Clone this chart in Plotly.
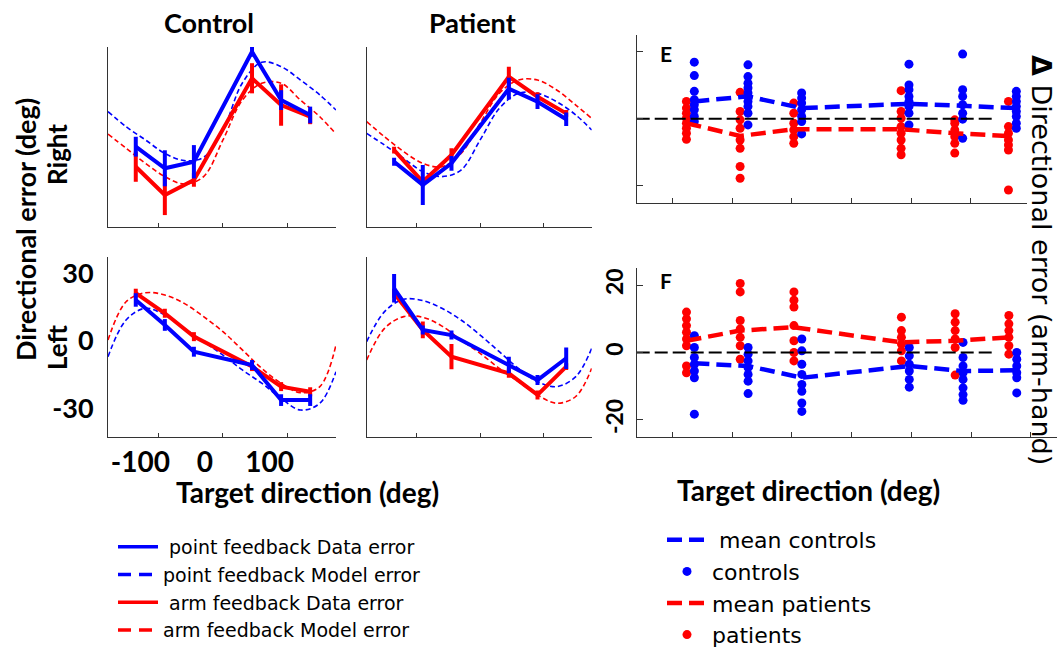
import plotly.graph_objects as go

W, H = 1058, 650
BLUE = '#0000ff'
RED = '#ff0000'

# ---------------- data: panels A-D (directional error, deg) ----------------
directions = [-135, -90, -45, 45, 90, 135]
model_x = [-178, -150, -120, -90, -60, -30, 0, 30, 60, 90, 120, 150, 175]

# Control - Right
ctrl_right_point = [-4.3, -13.9, -11.0, 37.9, 16.4, 9.8]
ctrl_right_point_err = [4.4, 8.0, 7.4, 2.2, 4.4, 3.7]
ctrl_right_arm = [-13.2, -25.8, -19.1, 26.1, 14.2, 9.0]
ctrl_right_arm_err = [6.7, 8.9, 3.0, 6.7, 9.2, 3.3]
ctrl_right_point_model = [11.3, 4.6, -1.3, -7.3, -10.5, -9.0, 3.0, 24.0, 33.2, 31.3, 25.3, 18.7, 12.0]
ctrl_right_arm_model = [1.3, -5.0, -11.7, -17.6, -20.9, -17.6, -1.3, 16.4, 23.9, 23.9, 16.4, 9.0, 1.3]

# Patient - Right
pat_right_point = [-11.0, -21.3, -11.7, 21.5, 15.7, 7.9]
pat_right_point_err = [1.8, 8.9, 3.3, 4.8, 3.3, 3.0]
pat_right_arm = [-5.8, -19.9, -8.0, 26.8, 17.9, 10.5]
pat_right_arm_err = [1.5, 2.0, 3.0, 4.4, 2.0, 1.5]
pat_right_point_model = [1.6, -3.6, -9.5, -15.4, -17.6, -14.7, -1.3, 12.7, 19.4, 19.4, 15.7, 9.8, 3.1]
pat_right_arm_model = [6.8, 0.1, -6.5, -11.7, -13.2, -7.3, 6.1, 19.4, 25.3, 25.3, 20.9, 14.2, 8.3]

# Control - Left
ctrl_left_point = [20.9, 9.8, -2.1, -8.0, -23.6, -23.6]
ctrl_left_point_err = [3.0, 2.6, 2.2, 2.2, 2.6, 2.6]
ctrl_left_arm = [23.9, 15.0, 4.6, -8.7, -17.6, -19.9]
ctrl_left_arm_err = [2.0, 2.0, 2.0, 2.0, 2.0, 2.0]
ctrl_left_point_model = [-4.3, 12.0, 17.2, 14.2, 8.3, 2.4, -3.6, -10.2, -16.1, -22.8, -28.0, -25.0, -11.0]
ctrl_left_arm_model = [3.1, 20.1, 24.1, 23.1, 19.4, 13.5, 6.8, -1.3, -9.5, -16.1, -20.3, -17.6, 0.9]

# Patient - Left
pat_left_point = [26.1, 7.6, 5.3, -8.0, -14.7, -5.0]
pat_left_point_err = [6.3, 2.0, 2.0, 3.7, 2.2, 4.8]
pat_left_arm = [23.9, 7.6, -4.3, -11.7, -21.3, -8.7]
pat_left_arm_err = [2.0, 3.7, 5.6, 2.0, 2.0, 1.5]
pat_left_point_model = [2.4, 15.7, 21.2, 20.6, 17.2, 12.0, 5.3, -2.1, -9.5, -15.4, -17.6, -13.2, -0.6]
pat_left_arm_model = [-5.8, 8.3, 13.5, 13.2, 9.3, 3.1, -2.8, -9.5, -15.4, -21.3, -25.0, -22.0, -9.5]

# ---------------- data: panels E-F (delta directional error, arm-hand) -------
E_controls = [
    [16.9, 12.9, 8.2, 5.7, 4.2, 2.7, 0.7, -0.8],
    [16.1, 12.6, 10.6, 9.2, 7.7, 6.7, 5.2, 3.7, 1.7, -1.8],
    [7.7, 6.2, 4.7, 2.7, 0.7, -0.8, -4.5],
    [16.3, 10.1, 8.7, 6.7, 5.2, 3.7, 1.7, -1.8],
    [19.3, 8.7, 6.7, 4.2, 1.7, -0.1, -5.8],
    [8.2, 6.7, 5.2, 3.7, 2.2, 0.7, -1.3, -2.8],
]
E_patients = [
    [5.2, 3.2, 1.7, 0.2, -1.3, -2.8, -4.3, -6.1],
    [7.9, 2.2, -0.3, -2.8, -6.3, -8.8, -14.2, -17.7],
    [4.7, 1.7, -1.3, -3.3, -5.3, -7.3],
    [8.4, 2.2, 0.2, -2.3, -4.3, -6.3, -8.8, -10.7],
    [-0.3, -1.3, -3.3, -5.3, -7.3, -10.2],
    [5.2, -2.3, -4.3, -6.3, -7.8, -9.3, -21.2],
]
E_mean_controls = [5.2, 6.7, 3.2, 4.5, 3.9, 3.2]
E_mean_patients = [-1.3, -5.1, -3.1, -3.1, -4.3, -5.1]

F_controls = [
    [5.0, 1.5, -1.5, -3.5, -5.5, -7.5, -18.3],
    [1.5, -0.5, -2.5, -4.5, -6.5, -8.5, -12.2],
    [4.0, 0.5, -3.5, -6.5, -9.5, -11.5, -15.0, -17.5],
    [1.5, -1.0, -3.5, -5.5, -8.0, -10.3],
    [3.0, -1.5, -4.0, -6.0, -8.0, -10.5, -12.5, -14.2],
    [0.0, -2.0, -4.0, -6.0, -7.5, -12.0],
]
F_patients = [
    [12.0, 10.0, 8.0, 6.0, 4.0, 2.0, -4.0, -6.0],
    [20.5, 18.0, 9.5, 7.0, 4.5, 2.0, -2.0],
    [18.0, 15.5, 13.5, 8.0, 3.5, 0.0, -2.5],
    [10.5, 6.5, 4.5, 2.5, 0.5, -2.5],
    [11.5, 9.0, 6.5, 4.0, 1.5, -6.7],
    [11.0, 8.5, 6.5, 4.5, 2.0, -0.5],
]
F_mean_controls = [-3.2, -4.0, -7.5, -4.0, -5.5, -5.3]
F_mean_patients = [3.5, 6.5, 7.5, 3.0, 3.5, 4.5]

zero_line_x = [-180, 120]
zero_line_y = [0, 0]

left_x_ticks = [-100, 0, 100]
left_x_ticktext = ['-100', '0', '100']
left_y_ticks = [-30, 0, 30]
left_y_ticktext = ['-30', '0', '30']
right_x_ticks = [-150, -100, -50, 0, 50, 100, 150]
right_y_ticks = [-20, 0, 20]
right_y_ticktext = ['-20', '0', '20']

GROUP_OFFSET = 3.3  # horizontal separation of the two groups in E/F (deg)

# ---------------- figure ----------------
fig = go.Figure()

panels = [
    ('x', 'y', ctrl_right_point, ctrl_right_point_err, ctrl_right_arm, ctrl_right_arm_err,
     ctrl_right_point_model, ctrl_right_arm_model),
    ('x2', 'y2', pat_right_point, pat_right_point_err, pat_right_arm, pat_right_arm_err,
     pat_right_point_model, pat_right_arm_model),
    ('x3', 'y3', ctrl_left_point, ctrl_left_point_err, ctrl_left_arm, ctrl_left_arm_err,
     ctrl_left_point_model, ctrl_left_arm_model),
    ('x4', 'y4', pat_left_point, pat_left_point_err, pat_left_arm, pat_left_arm_err,
     pat_left_point_model, pat_left_arm_model),
]

MODEL_DASH = '5px,3px'
for xa, ya, pdat, perr, adat, aerr, pmod, amod in panels:
    fig.add_trace(go.Scatter(
        x=model_x, y=pmod, mode='lines', xaxis=xa, yaxis=ya,
        line=dict(color=BLUE, width=1.6, dash=MODEL_DASH, shape='spline', smoothing=1),
        showlegend=False))
    fig.add_trace(go.Scatter(
        x=model_x, y=amod, mode='lines', xaxis=xa, yaxis=ya,
        line=dict(color=RED, width=1.6, dash=MODEL_DASH, shape='spline', smoothing=1),
        showlegend=False))
    fig.add_trace(go.Scatter(
        x=directions, y=adat, mode='lines', xaxis=xa, yaxis=ya,
        line=dict(color=RED, width=4),
        error_y=dict(type='data', array=aerr, visible=True, thickness=4, width=0, color=RED),
        showlegend=False))
    fig.add_trace(go.Scatter(
        x=directions, y=pdat, mode='lines', xaxis=xa, yaxis=ya,
        line=dict(color=BLUE, width=4),
        error_y=dict(type='data', array=perr, visible=True, thickness=4, width=0, color=BLUE),
        showlegend=False))

# legend entries (no data of their own; styled like the reference legend keys)
legend_entries = [
    ('\u00a0point feedback Data error', BLUE, 'solid', 1),
    ('point feedback Model error', BLUE, '13px,8px', 2),
    ('\u00a0arm feedback Data error', RED, 'solid', 3),
    ('arm feedback Model error', RED, '13px,8px', 4),
]
for name, color, dash, rank in legend_entries:
    fig.add_trace(go.Scatter(
        x=[None], y=[None], mode='lines', xaxis='x', yaxis='y',
        line=dict(color=color, width=3.5, dash=dash),
        name=name, legend='legend', legendrank=rank, showlegend=True))

MEAN_DASH = '15px,7px'
for j, (xa, ya, ctrls, pats, mc, mp) in enumerate([
        ('x5', 'y5', E_controls, E_patients, E_mean_controls, E_mean_patients),
        ('x6', 'y6', F_controls, F_patients, F_mean_controls, F_mean_patients)]):
    first = (j == 0)
    px_, py_ = [], []
    for d, col in zip(directions, pats):
        px_ += [d - GROUP_OFFSET] * len(col)
        py_ += col
    cx_, cy_ = [], []
    for d, col in zip(directions, ctrls):
        cx_ += [d + GROUP_OFFSET] * len(col)
        cy_ += col
    fig.add_trace(go.Scatter(
        x=px_, y=py_, mode='markers', xaxis=xa, yaxis=ya,
        marker=dict(color=RED, size=9),
        name='patients', legend='legend2', legendrank=4, showlegend=first))
    fig.add_trace(go.Scatter(
        x=cx_, y=cy_, mode='markers', xaxis=xa, yaxis=ya,
        marker=dict(color=BLUE, size=9),
        name='controls', legend='legend2', legendrank=2, showlegend=first))
    fig.add_trace(go.Scatter(
        x=[d - GROUP_OFFSET for d in directions], y=mp, mode='lines', xaxis=xa, yaxis=ya,
        line=dict(color=RED, width=4.5, dash=MEAN_DASH),
        name='mean patients', legend='legend2', legendrank=3, showlegend=first))
    fig.add_trace(go.Scatter(
        x=[d + GROUP_OFFSET for d in directions], y=mc, mode='lines', xaxis=xa, yaxis=ya,
        line=dict(color=BLUE, width=4.5, dash=MEAN_DASH),
        name='\u00a0mean controls', legend='legend2', legendrank=1, showlegend=first))
    fig.add_trace(go.Scatter(
        x=zero_line_x, y=zero_line_y, mode='lines', xaxis=xa, yaxis=ya,
        line=dict(color='black', width=2, dash='13px,5px'),
        showlegend=False, hoverinfo='skip'))

# ---------------- axes ----------------
def fx(p):
    return p / W

def fy(p):
    return 1 - p / H

AX_COLOR = '#333333'
base = dict(showline=True, linecolor=AX_COLOR, linewidth=1, showgrid=False, zeroline=False,
            mirror=False, tickcolor=AX_COLOR)
bold_tick = dict(family='Lato', size=28, color='black', weight='bold')

left_cols = [(108, 336), (366.7, 591.7)]
left_rows = [(47, 227), (257, 437)]

layout_axes = {}
k = 1
for r, (yt, yb) in enumerate(left_rows):
    for c, (xl, xr) in enumerate(left_cols):
        sx = '' if k == 1 else str(k)
        show_lab = (k == 3)
        layout_axes['xaxis' + sx] = dict(
            base, domain=[fx(xl), fx(xr)], range=[-178, 175], anchor='y' + sx,
            tickvals=left_x_ticks, ticktext=left_x_ticktext, ticks='inside', ticklen=4,
            showticklabels=show_lab, tickfont=bold_tick, ticklabelshift=-18)
        layout_axes['yaxis' + sx] = dict(
            base, domain=[fy(yb), fy(yt)], range=[-40, 40], anchor='x' + sx,
            tickvals=left_y_ticks, ticktext=left_y_ticktext, ticks='',
            showticklabels=show_lab, tickfont=dict(bold_tick, size=27),
            ticklabelstandoff=8, ticklabelshift=-6)
        k += 1

# E
layout_axes['xaxis5'] = dict(base, domain=[fx(636.7), fx(1026.7)], range=[-180, 147], anchor='y5',
                             tickvals=right_x_ticks, ticks='inside', ticklen=5, showticklabels=False)
layout_axes['yaxis5'] = dict(base, domain=[fy(202.7), fy(35)], range=[-25, 25], anchor='x5',
                             tickvals=right_y_ticks, ticks='inside', ticklen=6, showticklabels=False)
# F
layout_axes['xaxis6'] = dict(base, domain=[fx(636.7), fx(1057)], range=[-180, 172], anchor='y6',
                             tickvals=right_x_ticks, ticks='inside', ticklen=5, showticklabels=False)
layout_axes['yaxis6'] = dict(base, domain=[fy(436.7), fy(268.3)], range=[-25, 25], anchor='x6',
                             tickvals=right_y_ticks, ticktext=right_y_ticktext, ticks='inside',
                             ticklen=6, showticklabels=True, tickangle=-90, ticklabelstandoff=4,
                             tickfont=dict(family='Lato', size=23, color='black', weight='bold'))

# ---------------- text ----------------
TITLE_FONT = dict(family='Lato', size=28, color='black', weight='bold')
annotations = [
    dict(text='Control', x=fx(209), y=fy(22), font=dict(TITLE_FONT, size=27)),
    dict(text='Patient', x=fx(472), y=fy(22), font=dict(TITLE_FONT, size=27)),
    dict(text='Directional error (deg)', x=fx(25), y=fy(230), textangle=-90,
         font=dict(TITLE_FONT, size=27)),
    dict(text='Right', x=fx(57), y=fy(155), textangle=-90, font=dict(TITLE_FONT, size=26)),
    dict(text='Left', x=fx(57), y=fy(347), textangle=-90, font=dict(TITLE_FONT, size=26)),
    dict(text='Target direction (deg)', x=fx(307), y=fy(492)),
    dict(text='Target direction (deg)', x=fx(808), y=fy(490)),
    dict(text='E', x=fx(666), y=fy(53), font=dict(TITLE_FONT, size=21)),
    dict(text='F', x=fx(666), y=fy(280), font=dict(TITLE_FONT, size=21)),
    dict(text='<b>\u0394</b> Directional error (arm-hand)', x=fx(1042), y=fy(260), textangle=90,
         font=dict(family='DejaVu Sans', size=27, color='black')),
]
for a in annotations:
    a.setdefault('font', TITLE_FONT)
    a.update(xref='paper', yref='paper', showarrow=False, xanchor='center', yanchor='middle')

LEG_FONT = dict(family='DejaVu Sans', color='black')
fig.update_layout(
    width=W, height=H,
    margin=dict(l=0, r=0, t=0, b=0, autoexpand=False),
    paper_bgcolor='white', plot_bgcolor='white',
    annotations=annotations,
    legend=dict(x=fx(113), y=fy(528), xanchor='left', yanchor='top',
                font=dict(LEG_FONT, size=19),
                bgcolor='rgba(0,0,0,0)', itemwidth=40, tracegroupgap=0, traceorder='normal'),
    legend2=dict(x=fx(662), y=fy(519), xanchor='left', yanchor='top',
                 font=dict(LEG_FONT, size=22),
                 bgcolor='rgba(0,0,0,0)', itemwidth=40, tracegroupgap=0, traceorder='normal'),
    **layout_axes,
)

fig.write_html('out.html')
